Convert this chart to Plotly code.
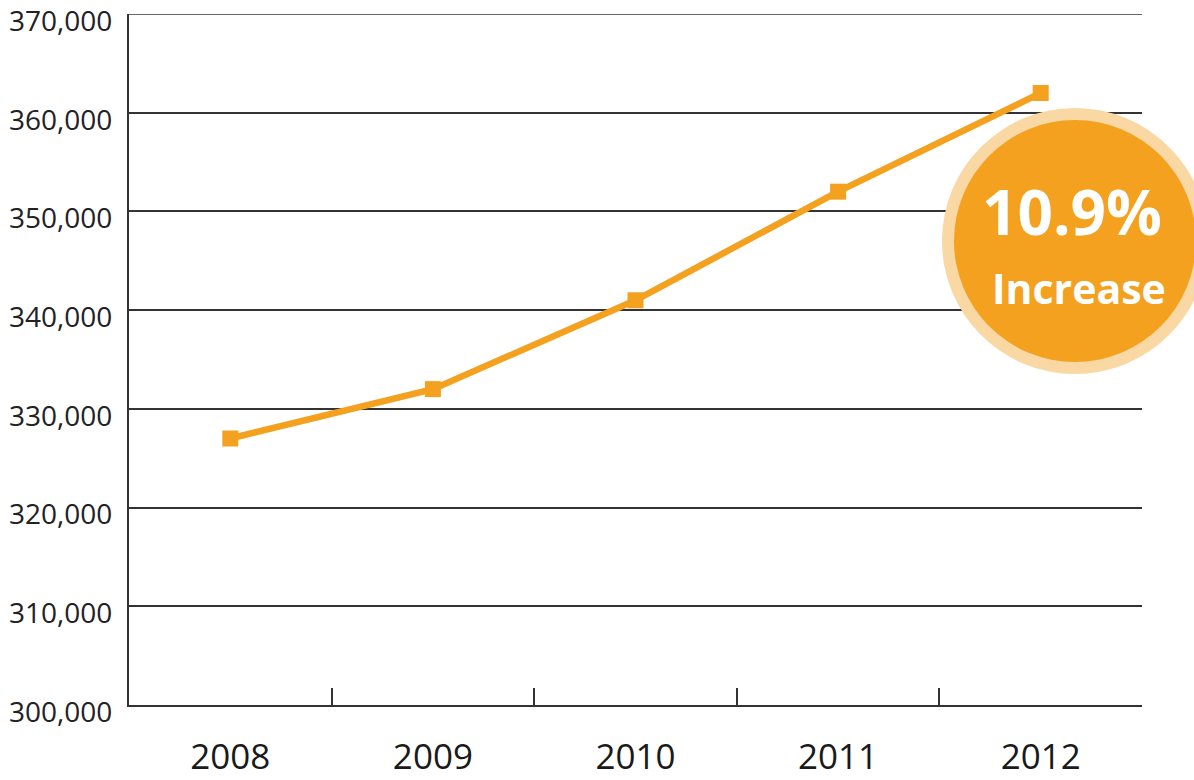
import plotly.graph_objects as go

years = ["2008", "2009", "2010", "2011", "2012"]
values = [327000, 332000, 341000, 352000, 362000]
y_ticks = [300000, 310000, 320000, 330000, 340000, 350000, 360000, 370000]
y_labels = ["300,000", "310,000", "320,000", "330,000", "340,000", "350,000", "360,000", "370,000"]
y_top = 370000
badge_pct = "10.9%"
badge_word = "Increase"

W, H = 1194, 780
L, R, T, B = 129, 52, 14, 75
pw, ph = W - L - R, H - T - B

def px_to_paper(x, y):
    return (x - L) / pw, (H - B - y) / ph

orange = "#F4A11F"
peach = "#F9D8A4"
dark = "#333333"

fig = go.Figure()
fig.add_trace(go.Scatter(
    x=years, y=values, mode="lines+markers",
    line=dict(color=orange, width=6.5),
    marker=dict(symbol="square", size=16, color=orange),
    hoverinfo="skip", showlegend=False,
))

fig.add_shape(type="line", xref="paper", yref="y", x0=0, x1=1, y0=y_top, y1=y_top,
              line=dict(color=dark, width=1.5), layer="below")

cx, cy = px_to_paper(1075, 241)
fig.add_shape(type="circle", xref="paper", yref="paper", xsizemode="pixel", ysizemode="pixel",
              xanchor=cx, yanchor=cy, x0=-133, x1=133, y0=-133, y1=133,
              fillcolor=peach, line=dict(width=0), layer="above")
fig.add_shape(type="circle", xref="paper", yref="paper", xsizemode="pixel", ysizemode="pixel",
              xanchor=cx, yanchor=cy, x0=-121, x1=121, y0=-121, y1=121,
              fillcolor=orange, line=dict(width=0), layer="above")

ax1, ay1 = px_to_paper(1072, 211)
fig.add_annotation(x=ax1, y=ay1, xref="paper", yref="paper", text="<b>" + badge_pct + "</b>",
                   showarrow=False, xanchor="center", yanchor="middle",
                   font=dict(family="Open Sans", size=62, color="white"))
ax2, ay2 = px_to_paper(1079, 288)
fig.add_annotation(x=ax2, y=ay2, xref="paper", yref="paper", text="<b>" + badge_word + "</b>",
                   showarrow=False, xanchor="center", yanchor="middle",
                   font=dict(family="Open Sans", size=41, color="white"))

fig.update_layout(
    width=W, height=H,
    margin=dict(l=L, r=R, t=T, b=B, pad=0, autoexpand=False),
    paper_bgcolor="white", plot_bgcolor="white",
    xaxis=dict(
        type="category", range=[-0.5, 4.5], tickson="boundaries",
        ticks="inside", ticklen=17, tickwidth=1.5, tickcolor=dark,
        showline=True, linecolor=dark, linewidth=2,
        showgrid=False, zeroline=False, automargin=False,
        ticklabelstandoff=20,
        tickfont=dict(family="Open Sans", size=35, color="#1a1a1a"),
        fixedrange=True,
    ),
    yaxis=dict(
        range=[300000, 370001], tickvals=y_ticks, ticktext=y_labels,
        showgrid=True, gridcolor=dark, gridwidth=1.5,
        showline=True, linecolor=dark, linewidth=2, automargin=False,
        ticks="", ticklabelstandoff=9, ticklabelshift=7,
        zeroline=False, ticklabeloverflow="allow",
        tickfont=dict(family="Open Sans", size=28, color="#222222"),
        fixedrange=True,
    ),
)

fig.write_html("out.html", config={"displayModeBar": False},
               post_script="document.body.style.margin='0px';document.body.style.overflow='hidden';")
